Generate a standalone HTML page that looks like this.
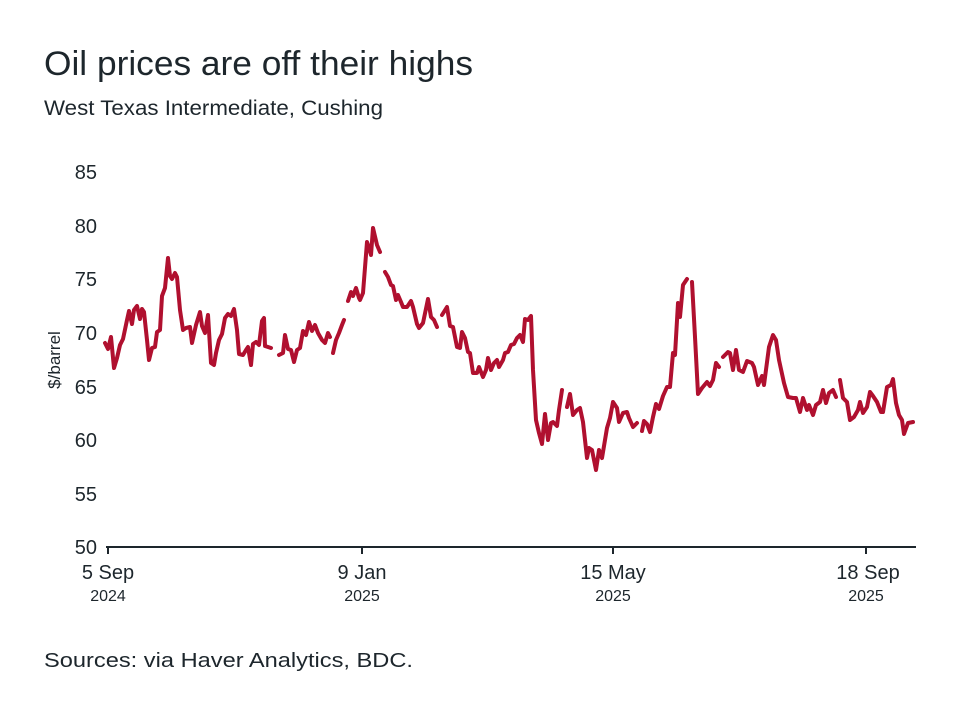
<!DOCTYPE html>
<html><head><meta charset="utf-8"><style>
body{margin:0;background:#fff;width:960px;height:721px;overflow:hidden;font-family:"Liberation Sans",sans-serif;color:#1d262c}
</style></head><body>
<svg width="960" height="721" xmlns="http://www.w3.org/2000/svg" font-family="Liberation Sans, sans-serif" fill="#1d262c">
<text x="44" y="75" font-size="34" textLength="429" lengthAdjust="spacingAndGlyphs">Oil prices are off their highs</text>
<text x="44" y="115" font-size="21" textLength="339" lengthAdjust="spacingAndGlyphs">West Texas Intermediate, Cushing</text>
<g font-size="20" text-anchor="end">
<text x="97" y="179">85</text><text x="97" y="233">80</text><text x="97" y="286">75</text><text x="97" y="340">70</text><text x="97" y="394">65</text><text x="97" y="447">60</text><text x="97" y="501">55</text><text x="97" y="554">50</text>
</g>
<text transform="translate(60,360) rotate(-90)" font-size="17" text-anchor="middle">$/barrel</text>
<line x1="106" y1="547" x2="916" y2="547" stroke="#1d262c" stroke-width="2"/>
<g stroke="#1d262c" stroke-width="2"><line x1="108" y1="547" x2="108" y2="554"/><line x1="362" y1="547" x2="362" y2="554"/><line x1="613" y1="547" x2="613" y2="554"/><line x1="866" y1="547" x2="866" y2="554"/></g>
<g text-anchor="middle" font-size="20"><text x="108" y="579">5 Sep</text><text x="362" y="579">9 Jan</text><text x="613" y="579">15 May</text><text x="868" y="579">18 Sep</text></g>
<g text-anchor="middle" font-size="16"><text x="108" y="601">2024</text><text x="362" y="601">2025</text><text x="613" y="601">2025</text><text x="866" y="601">2025</text></g>
<text x="44" y="667" font-size="20" textLength="369" lengthAdjust="spacingAndGlyphs">Sources: via Haver Analytics, BDC.</text>
<g fill="none" stroke="#b0102f" stroke-width="4" stroke-linejoin="round" stroke-linecap="round">
<polyline points="105,343 108,349 111,337 114,368 117,358 120,345 123,339 127,320 129,311 132,324 134,310 137,306 140,319 142,309 144,312 147,340 149,360 152,348 155,347 157,332 160,330 162,296 165,288 168,258 170,276 172,279 175,273 177,277 180,310 183,330 186,328 190,327 192,343 196,325 200,312 202,326 205,333 208,315 211,363 214,365 216,353 219,340 222,334 225,318 228,314 231,316 234,309 237,330 239,354 243,355 246,350 248,347 251,365 253,344 256,342 259,345 262,321 264,318 265,346 268,347 271,348"/>
<polyline points="279,355 283,353 285,335 288,349 291,350 294,362 297,350 300,348 303,331 306,335 309,322 312,331 315,325 318,333 322,340 325,343 328,333 330,337"/>
<polyline points="333,353 336,340 339,333 342,325 344,320"/>
<polyline points="348,301 351,292 353,296 356,288 359,298 360,300 363,293 367,242 369,248 371,255 373,228 377,245 380,252"/>
<polyline points="385,272 388,277 391,285 393,286 396,300 398,295 401,302 403,307 407,307 411,301 413,307 417,324 419,328 423,323 428,299 431,317 434,320 437,327"/>
<polyline points="442,315 447,307 450,326 453,327 457,347 460,348 462,332 465,338 468,352 470,353 473,373 477,373 479,367 483,377 486,370 488,358 491,370 494,363 497,360 499,367 503,360 505,353 508,352 511,345 514,344 517,338 520,335 523,342 525,319 528,320 531,316 533,370 536,420 539,433 542,444 545,414 548,440 551,423 553,422 557,426 559,410 562,390"/>
<polyline points="567,407 570,394 573,415 577,410 580,408 583,422 587,458 589,448 592,450 596,470 599,450 602,458 607,428 610,418 613,402 617,408 619,422 623,413 627,412 629,418 633,427 637,423"/>
<polyline points="642,431 644,421 647,424 650,432 653,417 656,404 659,409 663,396 667,387 670,387 673,353 675,355 678,303 680,317 683,285 685,282 687,279"/>
<polyline points="692,282 695,337 698,394 702,388 707,382 710,386 713,380 716,363 719,367"/>
<polyline points="723,357 728,352 730,353 733,370 736,350 739,370 743,372 747,361 752,363 754,367 758,385 762,376 764,385 769,347 773,335 776,340 779,360 784,383 788,397 793,398 796,398 800,412 803,398 807,410 809,405 813,415 816,405 820,402 823,390 826,403 829,393 833,390 836,397"/>
<polyline points="840,380 843,398 847,402 850,420 854,417 858,410 860,402 863,413 867,407 870,392 873,396 877,402 881,412 883,412 887,387 891,385 893,379 896,403 899,415 902,420 904,434 908,423 913,422"/>
</g>
</svg>
</body></html>
